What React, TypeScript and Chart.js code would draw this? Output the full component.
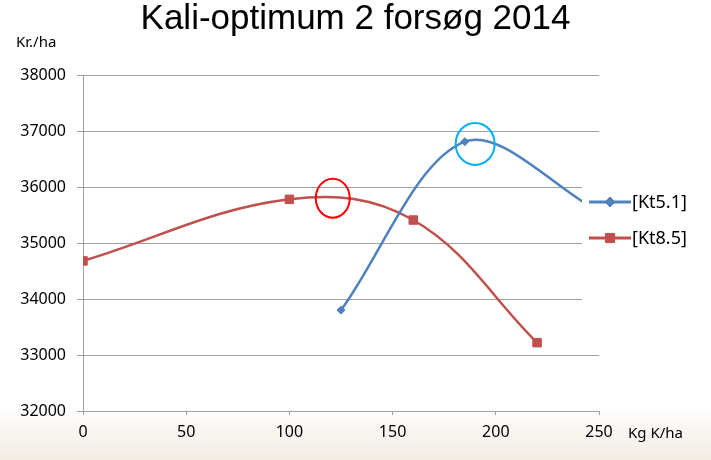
import React, { useEffect, useRef } from "react";
import { Chart, registerables } from "chart.js";
import * as helpers from "chart.js/helpers";

Chart.register(...registerables);

// ---- data ----
const titleText = "Kali-optimum 2 forsøg 2014";
const yAxisLabel = "Kr./ha";
const xAxisLabel = "Kg K/ha";
const seriesNames = ["[Kt5.1]", "[Kt8.5]"];
const kt51X = [125, 185, 250];
const kt51Y = [33800, 36810, 35560];
const kt85X = [0, 100, 160, 220];
const kt85Y = [34680, 35780, 35410, 33220];
const highlightX = [121, 190];
const highlightY = [35800, 36770];
const xMin = 0;
const xMax = 250;
const xStep = 50;
const yMin = 32000;
const yMax = 38000;
const yStep = 1000;

const BLUE = "#4F81BD";
const RED = "#C0504D";
const GRID = "#A0A0A0";
const FONT = "'Noto Sans', 'Liberation Sans', sans-serif";

const toPoints = (xs: number[], ys: number[]) => xs.map((x, i) => ({ x, y: ys[i] }));

const overlayPlugin = {
  id: "overlay",
  afterDatasetsDraw(chart: any) {
    const { ctx, scales } = chart;
    const xs = scales.x;
    const ys = scales.y;
    ctx.save();
    // highlight ellipses
    const ellColors = ["#FF0000", "#00B0F0"];
    const radii = [
      [17, 19.5],
      [19.5, 21],
    ];
    highlightX.forEach((hx, i) => {
      ctx.beginPath();
      ctx.ellipse(xs.getPixelForValue(hx), ys.getPixelForValue(highlightY[i]), radii[i][0], radii[i][1], 0, 0, Math.PI * 2);
      ctx.strokeStyle = ellColors[i];
      ctx.lineWidth = 2;
      ctx.stroke();
    });
    // legend box (covers plot edge as in the original)
    ctx.fillStyle = "#FFFFFF";
    ctx.fillRect(582, 160, 129, 150);
    const colors = [BLUE, RED];
    const styles = ["rectRot", "rect"];
    const rads = [5, 6.5];
    const rowsY = [202, 238];
    seriesNames.forEach((name, i) => {
      const y = rowsY[i];
      ctx.beginPath();
      ctx.moveTo(589, y);
      ctx.lineTo(631, y);
      ctx.strokeStyle = colors[i];
      ctx.lineWidth = 3;
      ctx.stroke();
      ctx.save();
      ctx.fillStyle = colors[i];
      ctx.strokeStyle = colors[i];
      ctx.lineWidth = 1;
      (helpers as any).drawPoint(ctx, { pointStyle: styles[i], radius: rads[i], rotation: 0, borderWidth: 1 }, 610, y);
      ctx.restore();
      ctx.fillStyle = "#000";
      ctx.font = `18px ${FONT}`;
      ctx.textAlign = "left";
      ctx.textBaseline = "middle";
      ctx.fillText(name, 632, y + 1);
    });
    ctx.restore();
  },
  afterDraw(chart: any) {
    const { ctx } = chart;
    ctx.save();
    ctx.fillStyle = "#000";
    ctx.textBaseline = "alphabetic";
    ctx.textAlign = "center";
    ctx.font = `35px 'Liberation Sans', Arial, sans-serif`;
    ctx.fillText(titleText, 355.5, 29);
    ctx.font = `15px ${FONT}`;
    ctx.textAlign = "left";
    ctx.textBaseline = "middle";
    ctx.fillText(yAxisLabel, 16, 43);
    ctx.fillText(xAxisLabel, 628, 434);
    ctx.restore();
  },
};

export default function App() {
  const canvasRef = useRef<HTMLCanvasElement | null>(null);

  useEffect(() => {
    if (!canvasRef.current) return;
    const chart = new Chart(canvasRef.current, {
      type: "scatter",
      data: {
        datasets: [
          {
            label: seriesNames[0],
            data: toPoints(kt51X, kt51Y),
            showLine: true,
            borderColor: BLUE,
            backgroundColor: BLUE,
            borderWidth: 2.5,
            pointStyle: "rectRot",
            pointRadius: 4,
            pointBorderWidth: 1,
            tension: 0.33,
          },
          {
            label: seriesNames[1],
            data: toPoints(kt85X, kt85Y),
            showLine: true,
            borderColor: RED,
            backgroundColor: RED,
            borderWidth: 2.5,
            pointStyle: "rect",
            pointRadius: 6,
            pointBorderWidth: 1,
            tension: 0.38,
          },
        ],
      },
      options: {
        animation: false,
        responsive: false,
        maintainAspectRatio: false,
        layout: { padding: { left: 0, top: 75, right: 112, bottom: 0 } },
        plugins: {
          legend: { display: false },
          title: { display: false },
          tooltip: { enabled: false },
        },
        scales: {
          x: {
            type: "linear",
            min: xMin,
            max: xMax,
            ticks: {
              stepSize: xStep,
              color: "#000",
              font: { family: FONT, size: 16 },
              padding: 8,
              maxRotation: 0,
            },
            grid: { drawOnChartArea: false, drawTicks: true, tickLength: 4, color: GRID },
            border: { display: true, color: GRID },
            afterFit: (scale: any) => {
              scale.height = 49;
            },
          },
          y: {
            min: yMin,
            max: yMax,
            ticks: {
              stepSize: yStep,
              color: "#000",
              font: { family: FONT, size: 16 },
              padding: 11,
              callback: (v: any) => String(v),
            },
            grid: { color: GRID, tickLength: 6, drawTicks: true },
            border: { display: true, color: GRID },
            afterFit: (scale: any) => {
              scale.width = 83;
            },
          },
        },
      },
      plugins: [overlayPlugin],
    });
    return () => chart.destroy();
  }, []);

  return (
    <div
      style={{
        position: "fixed",
        left: 0,
        top: 0,
        width: 711,
        height: 460,
        background: "linear-gradient(to bottom, #ffffff 0%, #ffffff 88%, #f2ece4 100%)",
      }}
    >
      <canvas ref={canvasRef} width={711} height={460} style={{ width: 711, height: 460, display: "block" }} />
    </div>
  );
}
